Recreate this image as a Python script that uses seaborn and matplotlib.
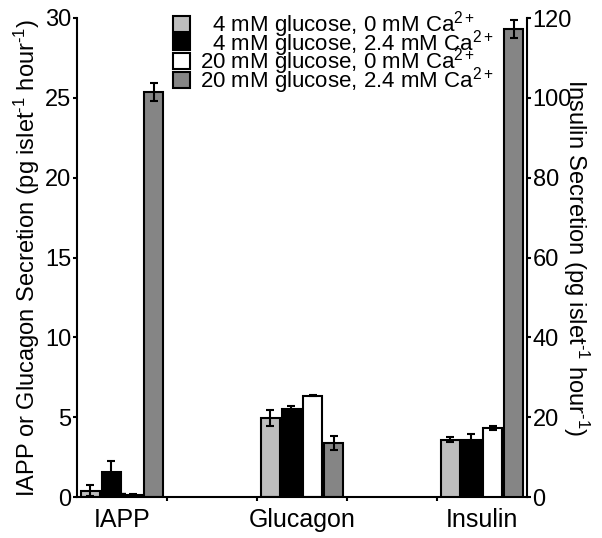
import numpy as np
import pandas as pd
import matplotlib
matplotlib.use("Agg")
import matplotlib.pyplot as plt
from matplotlib.patches import Rectangle
import seaborn as sns

# ---- data ----
order = ["IAPP", "gap1", "Glucagon", "gap2", "Insulin"]
conditions = [
    "  4 mM glucose, 0 mM Ca$^{2+}$",
    "  4 mM glucose, 2.4 mM Ca$^{2+}$",
    "20 mM glucose, 0 mM Ca$^{2+}$",
    "20 mM glucose, 2.4 mM Ca$^{2+}$",
]
colors = ["#bebebe", "#000000", "#ffffff", "#858585"]

iapp_means = [0.4, 1.55, 0.15, 25.35]
iapp_err = [0.35, 0.7, 0.05, 0.55]
glucagon_means = [4.95, 5.5, 6.35, 3.4]
glucagon_err = [0.5, 0.2, 0.05, 0.45]
insulin_means = [14.4, 14.3, 17.2, 117.3]
insulin_err = [0.7, 1.4, 0.5, 2.2]

left_ticks = [0, 5, 10, 15, 20, 25, 30]
right_ticks = [0, 20, 40, 60, 80, 100, 120]

df_left = pd.DataFrame({
    "cat": ["IAPP"] * 4 + ["Glucagon"] * 4,
    "cond": conditions * 2,
    "val": iapp_means + glucagon_means,
    "err": iapp_err + glucagon_err,
})
df_right = pd.DataFrame({
    "cat": ["Insulin"] * 4,
    "cond": conditions,
    "val": insulin_means,
    "err": insulin_err,
})

sns.set_style("ticks")
plt.rcParams["font.family"] = ["Liberation Sans", "DejaVu Sans"]
plt.rcParams["mathtext.fontset"] = "custom"
plt.rcParams["mathtext.rm"] = "Liberation Sans"
plt.rcParams["mathtext.it"] = "Liberation Sans:italic"
plt.rcParams["mathtext.bf"] = "Liberation Sans:bold"
plt.rcParams["mathtext.default"] = "regular"
for k in ("text.color", "axes.labelcolor", "xtick.color", "ytick.color",
          "xtick.labelcolor", "ytick.labelcolor"):
    plt.rcParams[k] = "black"

fig = plt.figure(figsize=(6.02, 5.38), dpi=100)
ax = fig.add_axes([77 / 602, 41 / 538, 450 / 602, 479 / 538])
ax2 = ax.twinx()

W = 0.94
common = dict(x="cat", y="val", hue="cond", order=order, hue_order=conditions,
              palette=colors, width=W, gap=0.1, errorbar=None,
              edgecolor="black", linewidth=1.5, saturation=1)
sns.barplot(data=df_left, ax=ax, **common)
sns.barplot(data=df_right, ax=ax2, legend=False, **common)


def add_errors(axis, df):
    bars = [p for p in list(axis.patches) if isinstance(p, Rectangle)]
    for bar in bars:
        h = bar.get_height()
        if h is None or np.isnan(h):
            continue
        xc = bar.get_x() + bar.get_width() / 2
        ci = int(round(xc))
        hi = int(round((xc - ci) / (W / 4) + 1.5))
        if not (0 <= ci < len(order) and 0 <= hi < len(conditions)):
            continue
        row = df[(df["cat"] == order[ci]) & (df["cond"] == conditions[hi])]
        if len(row) == 0:
            continue
        axis.errorbar(xc, row["val"].iloc[0], yerr=row["err"].iloc[0],
                      fmt="none", ecolor="black", elinewidth=1.5,
                      capsize=3, capthick=1.5, zorder=5)


add_errors(ax, df_left)
add_errors(ax2, df_right)

ax.set_xlim(-0.5, 4.5)
ax.set_ylim(0, 30)
ax2.set_ylim(0, 120)
ax.set_yticks(left_ticks)
ax2.set_yticks(right_ticks)
ax.set_xticks([0, 2, 4])
ax.set_xticklabels(["IAPP", "Glucagon", "Insulin"])
ax.set_xticks([0.5, 1.5, 2.5, 3.5], minor=True)
ax.tick_params(axis="x", which="major", length=0, pad=8, labelsize=18, colors="black")
ax.tick_params(axis="x", which="minor", length=3, width=1.5, direction="out", color="black")
ax.tick_params(axis="y", length=3, width=1.5, pad=1, labelsize=17, colors="black")
ax2.tick_params(axis="y", length=3, width=1.5, pad=1, labelsize=17, colors="black")

for a in (ax, ax2):
    a.spines["top"].set_visible(False)
    for s in ("left", "right", "bottom"):
        a.spines[s].set_linewidth(1.5)
        a.spines[s].set_color("black")
    a.set_xlabel("")
ax.spines["right"].set_visible(False)
ax2.spines["left"].set_visible(False)
ax2.spines["bottom"].set_visible(False)

ax.set_ylabel(r"IAPP or Glucagon Secretion (pg islet$^{\text{-}1}$ hour$^{\text{-}1}$)",
              fontsize=17, labelpad=2, color="black")
ax2.set_ylabel(r"Insulin Secretion (pg islet$^{\text{-}1}$ hour$^{\text{-}1}$)", fontsize=17,
               rotation=-90, labelpad=14, color="black")

handles, labels = ax.get_legend_handles_labels()
if ax.get_legend() is not None:
    ax.get_legend().remove()
leg = ax2.legend(handles, labels, loc="upper left", bbox_to_anchor=(173 / 602, 1 - 9 / 538),
                 bbox_transform=fig.transFigure, frameon=False, fontsize=16,
                 handlelength=0.75, handleheight=0.75, handletextpad=0.45,
                 labelspacing=-0.55, borderpad=0, borderaxespad=0)
for t in leg.get_texts():
    t.set_color("black")

fig.savefig("out.png", dpi=100)
